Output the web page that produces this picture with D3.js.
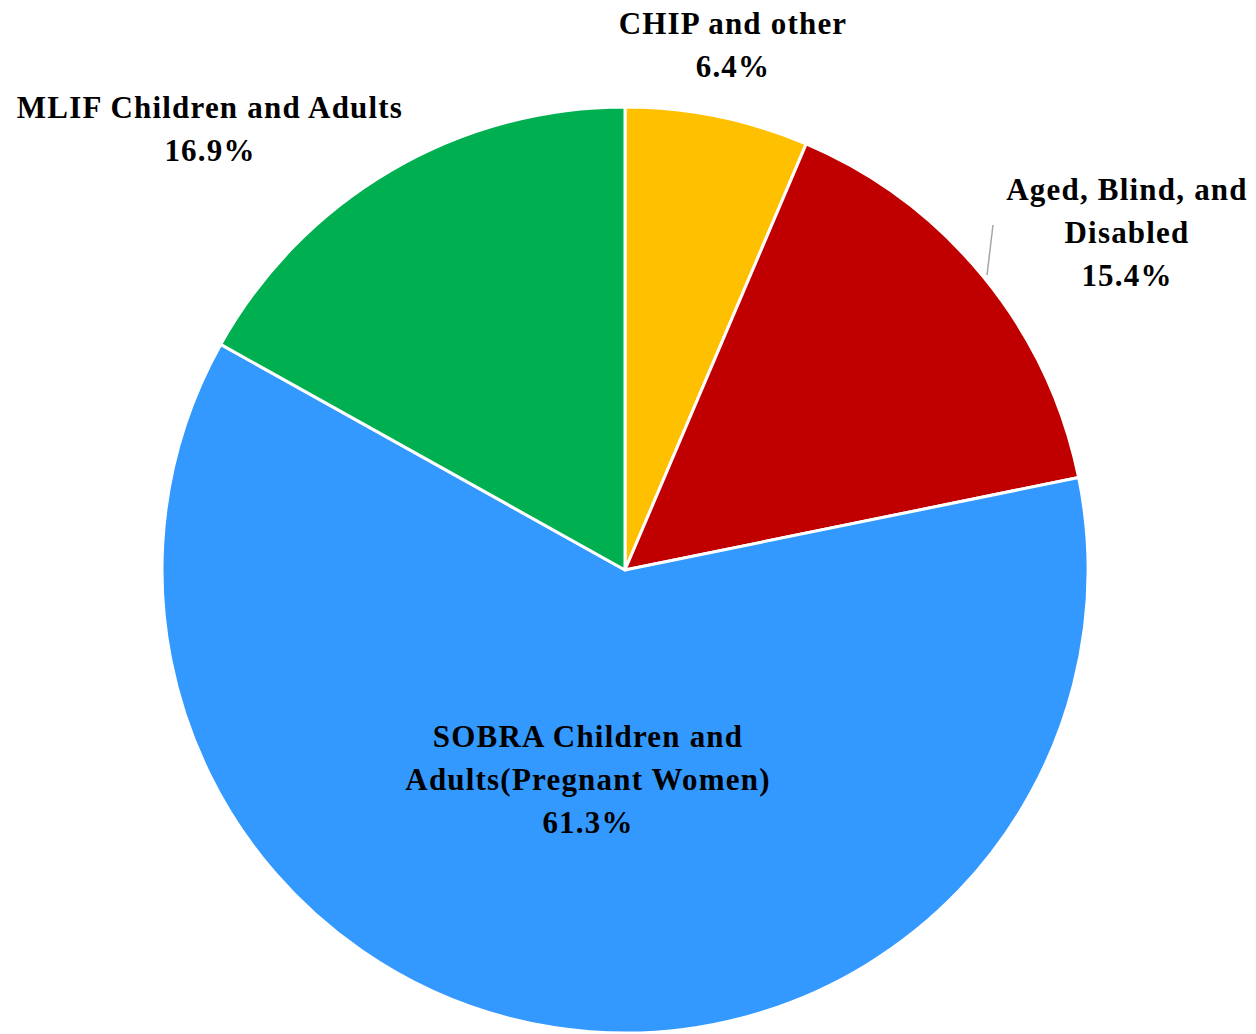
<!DOCTYPE html>
<html>
<head>
<meta charset="utf-8">
<script src="https://cdn.jsdelivr.net/npm/d3@7"></script>
<style>
  body { margin: 0; background: #fff; }
  text { font-family: "Palatino Linotype", "Book Antiqua", Palatino, "Liberation Serif", serif; font-weight: bold; font-size: 31px; letter-spacing: 1.2px; fill: #000; }
</style>
</head>
<body>
<svg id="chart" width="1256" height="1034"></svg>
<script>
const categories = ["CHIP and other", "Aged, Blind, and Disabled", "SOBRA Children and Adults(Pregnant Women)", "MLIF Children and Adults"];
const values = [6.4, 15.4, 61.3, 16.9];
const colors = ["#FFC000", "#C00000", "#3399FF", "#00B050"];
// label lines as broken in the picture
const labelLines = [
  ["CHIP and other"],
  ["Aged, Blind, and", "Disabled"],
  ["SOBRA Children and", "Adults(Pregnant Women)"],
  ["MLIF Children and Adults"]
];

const svg = d3.select("#chart");
const cx = 625, cy = 570, radius = 463;

const pie = d3.pie().sort(null).value(d => d);
const arcs = pie(values);
const arc = d3.arc().innerRadius(0).outerRadius(radius);

const g = svg.append("g").attr("transform", `translate(${cx},${cy})`);

g.selectAll("path")
  .data(arcs)
  .enter().append("path")
  .attr("d", arc)
  .attr("fill", (d, i) => colors[i])
  .attr("stroke", "#fff")
  .attr("stroke-width", 3)
  .attr("stroke-linejoin", "round");

// label placement (offsets from pie center) for the top line's baseline
const labelPos = [
  { x: 108, y: -536 },
  { x: 502, y: -370 },
  { x: -37, y: 177 },
  { x: -415, y: -452 }
];
const lineH = 43;

// leader line for Aged, Blind, and Disabled
g.append("line")
  .attr("x1", 368).attr("y1", -345)
  .attr("x2", 362).attr("y2", -295)
  .attr("stroke", "#A6A6A6")
  .attr("stroke-width", 1.5);

arcs.forEach((d, i) => {
  const t = g.append("text")
    .attr("text-anchor", "middle")
    .attr("x", labelPos[i].x)
    .attr("y", labelPos[i].y);
  const lines = labelLines[i].concat([d3.format(".1f")(values[i]) + "%"]);
  lines.forEach((l, j) => {
    t.append("tspan")
      .attr("x", labelPos[i].x)
      .attr("dy", j === 0 ? 0 : lineH)
      .text(l);
  });
});
</script>
</body>
</html>
